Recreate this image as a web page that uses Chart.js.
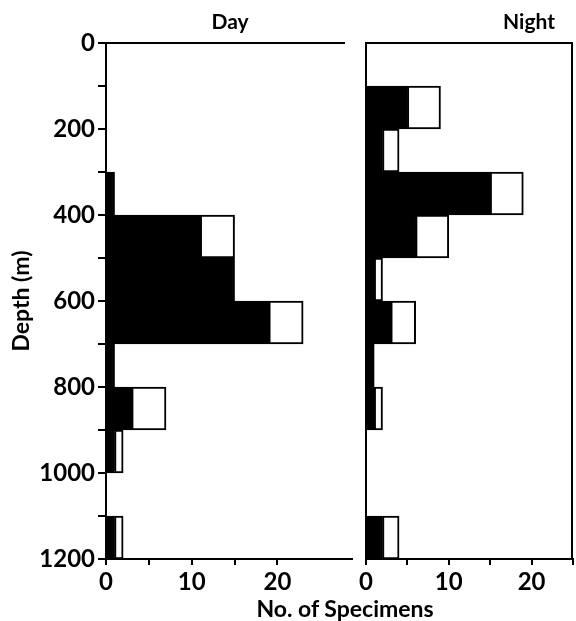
<!DOCTYPE html>
<html>
<head>
<meta charset="utf-8">
<script src="https://cdn.jsdelivr.net/npm/chart.js@4"></script>
<style>
  body { margin: 0; background: #fff; }
  #wrap { position: relative; width: 576px; height: 621px; background: #fff; }
  #dayBox { position: absolute; left: 0; top: 0; width: 356px; height: 621px; }
  #nightBox { position: absolute; left: 356px; top: 0; width: 220px; height: 621px; }
  #xTitle { position: absolute; left: 215px; width: 260px; top: 595px; text-align: center;
            font: bold 23px Lato, sans-serif; line-height: 26px; color: #000; }
</style>
</head>
<body>
<div id="wrap">
  <div id="dayBox"><canvas id="dayChart"></canvas></div>
  <div id="nightBox"><canvas id="nightChart"></canvas></div>
  <div id="xTitle">No. of Specimens</div>
</div>
<script>
// depth bins of 100 m, given by their centres
const depthCentres = [50, 150, 250, 350, 450, 550, 650, 750, 850, 950, 1050, 1150];

// specimens per bin: black part and white part of each bar
const dayBlack   = [0, 0, 0, 1, 11, 15, 19, 1, 3, 1, 0, 1];
const dayWhite   = [0, 0, 0, 0, 4, 0, 4, 0, 4, 1, 0, 1];
const nightBlack = [0, 5, 2, 15, 6, 1, 3, 1, 1, 0, 0, 2];
const nightWhite = [0, 4, 2, 4, 4, 1, 3, 0, 1, 0, 0, 2];

const depthTicks = [0, 200, 400, 600, 800, 1000, 1200];
const countTicks = [0, 10, 20];

const tickFont = { family: 'Lato', size: 24, weight: 'bold' };

const framePlugin = {
  id: 'frame',
  afterDraw(chart, args, opts) {
    const ctx = chart.ctx;
    const a = chart.chartArea;
    ctx.save();
    ctx.strokeStyle = '#000';
    ctx.lineWidth = 2;
    ctx.beginPath();
    ctx.moveTo(a.left, a.top);
    ctx.lineTo(a.right - opts.topTrim, a.top);
    if (opts.rightSide) {
      ctx.moveTo(a.right - 1, a.top);
      ctx.lineTo(a.right - 1, a.bottom);
    }
    ctx.stroke();
    ctx.font = 'bold 21px Lato';
    ctx.fillStyle = '#000';
    ctx.textAlign = 'center';
    ctx.textBaseline = 'middle';
    ctx.fillText(opts.title, opts.titleX, opts.titleY);
    ctx.restore();
  }
};

function toPoints(values) {
  return values.map((v, i) => ({ x: v, y: depthCentres[i] }));
}

function makeChart(canvas, black, white, cfg) {
  return new Chart(canvas, {
    type: 'bar',
    data: {
      datasets: [
        { label: 'black', data: toPoints(black), backgroundColor: '#000', borderColor: '#000',
          borderWidth: 2, borderSkipped: false },
        { label: 'white', data: toPoints(white), backgroundColor: '#fff', borderColor: '#000',
          borderWidth: 2, borderSkipped: false }
      ]
    },
    plugins: [framePlugin],
    options: {
      indexAxis: 'y',
      responsive: true,
      maintainAspectRatio: false,
      animation: false,
      categoryPercentage: 1,
      barPercentage: 1,
      layout: { padding: { top: 43, right: cfg.padRight, bottom: 12, left: 0 } },
      plugins: {
        legend: { display: false },
        title: { display: false },
        tooltip: { enabled: false },
        frame: { title: cfg.title, titleX: cfg.titleX, titleY: 22, topTrim: cfg.topTrim, rightSide: cfg.rightSide }
      },
      scales: {
        x: {
          type: 'linear', min: 0, max: cfg.xMax, stacked: true,
          afterFit: s => { s.height = 50; },
          ticks: {
            stepSize: 5, autoSkip: false, maxRotation: 0, padding: 3, color: '#000', font: tickFont,
            callback: v => v % 5 !== 0 ? null : (countTicks.includes(v) ? String(v) : '')
          },
          grid: { drawOnChartArea: false, tickLength: 6, color: '#000', lineWidth: 2 },
          border: { color: '#000', width: 2 }
        },
        y: {
          type: 'linear', reverse: true, min: 0, max: 1200, stacked: true, offset: false,
          afterFit: s => { s.width = cfg.yWidth; },
          ticks: {
            display: cfg.showDepth, stepSize: 100, autoSkip: false, padding: 3, color: '#000', font: tickFont,
            callback: v => depthTicks.includes(v) ? String(v) : ''
          },
          grid: { display: cfg.showDepth, offset: false, drawOnChartArea: false, tickLength: 8, color: '#000', lineWidth: 2 },
          border: { color: '#000', width: 2 },
          title: {
            display: cfg.showDepth, text: 'Depth (m)', color: '#000',
            font: { family: 'Lato', size: 23, weight: 'bold' }, padding: { top: 8, bottom: 0 }
          }
        }
      }
    }
  });
}

makeChart(document.getElementById('dayChart'), dayBlack, dayWhite,
  { title: 'Day', titleX: 230, xMax: 28.7, padRight: 4, yWidth: 106, showDepth: true, topTrim: 7, rightSide: false });
makeChart(document.getElementById('nightChart'), nightBlack, nightWhite,
  { title: 'Night', titleX: 173, xMax: 25, padRight: 1, yWidth: 7, showDepth: false, topTrim: 0, rightSide: true });
</script>
</body>
</html>
